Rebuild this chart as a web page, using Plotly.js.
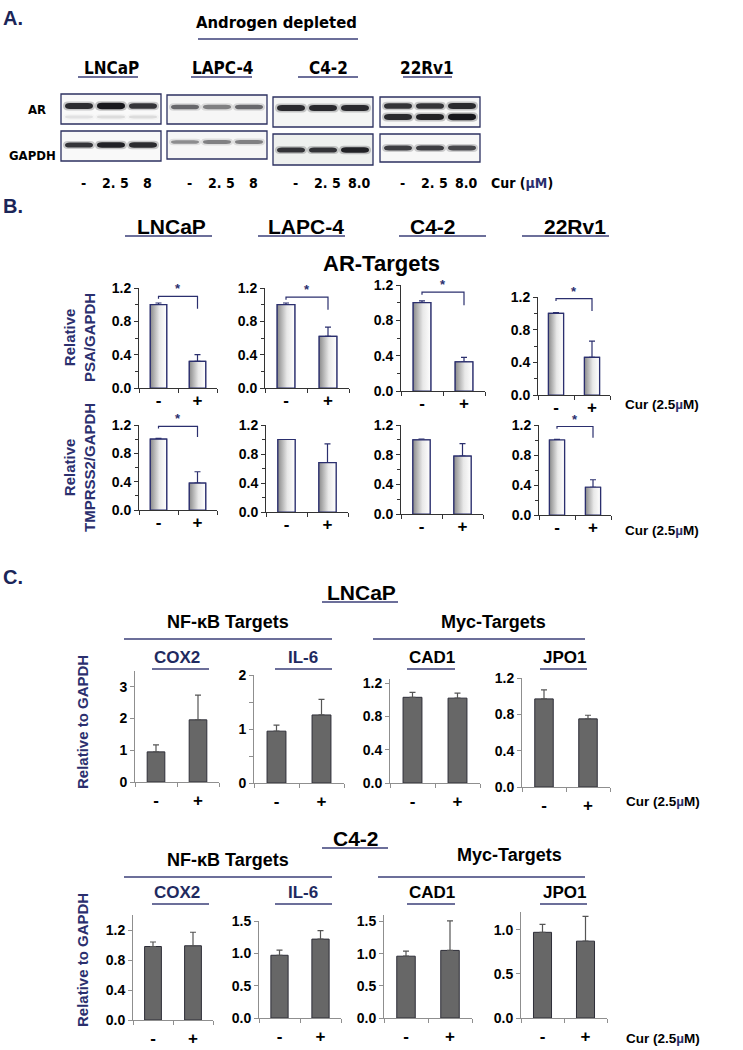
<!DOCTYPE html>
<html>
<head>
<meta charset="utf-8">
<script src="https://cdn.plot.ly/plotly-3.0.1.min.js"></script>
<style>html,body{margin:0;padding:0;background:#fff;}#chart{width:743px;height:1050px;}</style>
</head>
<body>
<div id="chart"></div>
<script>
// ---------------- DATA ----------------
// Panel A: western blots (relative band intensity, 0..1)
const blotLines = ['LNCaP', 'LAPC-4', 'C4-2', '22Rv1'];
const blotDoses = [['-', '2. 5', '8'], ['-', '2. 5', '8'], ['-', '2. 5', '8.0'], ['-', '2. 5', '8.0']];
const arUpper = [[0.85, 0.95, 0.80], [0.55, 0.45, 0.55], [0.85, 0.85, 0.85], [0.80, 0.80, 0.85]];
const arLower = [[0.08, 0.10, 0.10], [0.00, 0.00, 0.00], [0.00, 0.00, 0.00], [0.85, 0.90, 0.95]];
const gapdhBand = [[0.80, 0.90, 0.85], [0.40, 0.45, 0.45], [0.80, 0.80, 0.90], [0.75, 0.75, 0.70]];

// Panel B: AR targets (Relative to GAPDH), treatment - / +
const bLines = ['LNCaP', 'LAPC-4', 'C4-2', '22Rv1'];
const treatment = ['-', '+'];
const psaMean = [[1.00, 0.32], [1.00, 0.62], [1.00, 0.33], [1.00, 0.46]];
const psaErr = [[0.02, 0.08], [0.02, 0.11], [0.02, 0.05], [0.01, 0.20]];
const psaSig = [1.10, 1.09, 1.12, 1.18];       // significance bracket level (null = none)
const tmpMean = [[1.00, 0.38], [1.00, 0.68], [1.00, 0.78], [1.00, 0.37]];
const tmpErr = [[0.01, 0.16], [0.00, 0.26], [0.01, 0.17], [0.01, 0.10]];
const tmpSig = [1.18, null, null, 1.18];

// Panel C: NF-kB and Myc targets
const cGenes = ['COX2', 'IL-6', 'CAD1', 'JPO1'];
const cGroups = ['NF-κB Targets', 'Myc-Targets'];
const lncapMean = [[0.95, 1.96], [0.96, 1.26], [1.03, 1.02], [0.97, 0.75]];
const lncapErr = [[0.22, 0.78], [0.11, 0.29], [0.06, 0.06], [0.10, 0.04]];
const c42Mean = [[0.98, 0.99], [0.97, 1.22], [0.96, 1.05], [0.97, 0.87]];
const c42Err = [[0.06, 0.18], [0.08, 0.13], [0.08, 0.46], [0.09, 0.28]];

// ---------------- STYLE / GEOMETRY ----------------
const W = 743, H = 1050;
const NAVY = '#2b2f6e';
const FONT = 'Liberation Sans, Arial, sans-serif';
const NARROW = 'Liberation Sans Narrow, Arial Narrow, DejaVu Sans Condensed, sans-serif';
const px = v => v / W;
const py = v => 1 - v / H;

const blotGeom = [
  {x: [61, 161], ar: [94, 124], gapdh: [131, 161], arY: [106, 117], gY: 145},
  {x: [167, 267], ar: [95, 124], gapdh: [131, 159], arY: [107, 117], gY: 142},
  {x: [273, 373], ar: [97, 127], gapdh: [134, 165], arY: [108, 119], gY: 150},
  {x: [380, 480], ar: [97, 127], gapdh: [134, 162], arY: [106, 117], gY: 148}
];
const laneFrac = [0.18, 0.5, 0.82];

const geomB = [
  {x: [139, 217], zero: 388, top: 288}, {x: [265, 349], zero: 388, top: 288},
  {x: [401, 485], zero: 391, top: 285}, {x: [538, 610], zero: 395, top: 297},
  {x: [139, 217], zero: 510, top: 425}, {x: [266, 348], zero: 512, top: 425},
  {x: [401, 483], zero: 514, top: 425}, {x: [539, 611], zero: 515, top: 425}
];
const geomC = [
  {x: [135, 219], zero: 782, top: 671, max: 3.5, tv: [0, 1, 2, 3], lab: 1, dec: 0},
  {x: [254, 344], zero: 783, top: 675, max: 2, tv: [0, 0.5, 1, 1.5, 2], lab: 1, dec: 0},
  {x: [390, 480], zero: 783, top: 679, max: 1.25, tv: [0, 0.4, 0.8, 1.2], lab: 0.4, dec: 1},
  {x: [522, 610], zero: 787, top: 678, max: 1.2, tv: [0, 0.4, 0.8, 1.2], lab: 0.4, dec: 1},
  {x: [133, 213], zero: 1020, top: 915, max: 1.4, tv: [0, 0.4, 0.8, 1.2], lab: 0.4, dec: 1},
  {x: [259, 341], zero: 1018, top: 921, max: 1.5, tv: [0, 0.5, 1, 1.5], lab: 0.5, dec: 1},
  {x: [384, 472], zero: 1018, top: 915, max: 1.6, tv: [0, 0.5, 1, 1.5], lab: 0.5, dec: 1},
  {x: [521, 607], zero: 1018, top: 912, max: 1.2, tv: [0, 0.5, 1.0], lab: 0.5, dec: 1}
];

const traces = [];
const layout = {
  width: W, height: H, margin: {l: 0, r: 0, t: 0, b: 0},
  paper_bgcolor: '#fff', plot_bgcolor: 'rgba(0,0,0,0)', showlegend: false,
  annotations: [], shapes: []
};

function ann(text, x, y, o) {
  o = o || {};
  layout.annotations.push({
    text: '<b>' + text + '</b>', x: px(x), y: py(y), xref: 'paper', yref: 'paper', showarrow: false,
    xanchor: o.xanchor || 'center', yanchor: 'middle', textangle: o.angle || 0,
    align: 'center',
    font: {family: o.family || FONT, size: o.size || 14, color: o.color || '#000', weight: 700}
  });
}
function uline(x0, x1, y, o) {
  o = o || {};
  layout.shapes.push({type: 'line', xref: 'paper', yref: 'paper', x0: px(x0), x1: px(x1), y0: py(y), y1: py(y),
    line: {color: o.color || '#3b3f78', width: o.width || 1.5}});
}
function rect(x0, x1, y0, y1, fill) {
  layout.shapes.push({type: 'rect', xref: 'paper', yref: 'paper', x0: px(x0), x1: px(x1), y0: py(y1), y1: py(y0),
    line: {color: '#2c3060', width: 1.3}, fillcolor: fill || '#f8f8f8', layer: 'below'});
}
function band(cx, cy, w, h, alpha) {
  if (alpha <= 0) return;
  const mk = (ww, hh, a) => {
    const x0 = cx - ww / 2, x1 = cx + ww / 2, y0 = cy - hh / 2, y1 = cy + hh / 2, r = Math.min(5, ww / 4);
    const P = (X, Y) => px(X) + ',' + py(Y);
    const d = 'M' + P(x0 + r, y0) + ' L' + P(x1 - r, y0) + ' Q' + P(x1, y0) + ' ' + P(x1, cy) +
      ' Q' + P(x1, y1) + ' ' + P(x1 - r, y1) + ' L' + P(x0 + r, y1) + ' Q' + P(x0, y1) + ' ' + P(x0, cy) +
      ' Q' + P(x0, y0) + ' ' + P(x0 + r, y0) + ' Z';
    layout.shapes.push({type: 'path', xref: 'paper', yref: 'paper', path: d,
      fillcolor: 'rgba(15,15,20,' + a.toFixed(3) + ')', line: {width: 0}});
  };
  mk(w + 4, h + 3, alpha * 0.25);
  mk(w, h, alpha);
}

// ---------------- PANEL A ----------------
ann('A.', 13, 18, {size: 20, color: '#1b2558'});
ann('Androgen depleted', 276, 23, {family: NARROW, size: 16.5});
uline(198, 358, 39);
const aHeadX = [111, 222, 328, 427];
const aHeadLine = [[78, 138], [191, 252], [298, 358], [403, 452]];
const boxFill = ['#f9f9f9', '#f6f6f6', '#f4f5f4', '#f7f7f7'];
blotLines.forEach((name, i) => {
  ann(name, aHeadX[i], 68, {family: NARROW, size: 17});
  uline(aHeadLine[i][0], aHeadLine[i][1], 77);
  const g = blotGeom[i];
  rect(g.x[0], g.x[1], g.ar[0], g.ar[1], boxFill[i]);
  rect(g.x[0], g.x[1], g.gapdh[0], g.gapdh[1], i === 2 ? '#eef0ee' : boxFill[i]);
  const bw = g.x[1] - g.x[0];
  laneFrac.forEach((f, k) => {
    const cx = g.x[0] + f * bw;
    band(cx, g.arY[0], 28, 2.5 + 4 * arUpper[i][k], arUpper[i][k]);
    band(cx, g.arY[1], 28, 2.5 + 4 * arLower[i][k], arLower[i][k]);
    band(cx, g.gY, 28, 2 + 4 * gapdhBand[i][k], gapdhBand[i][k]);
    ann(blotDoses[i][k], cx + 4, 183, {family: NARROW, size: 14});
  });
});
ann('AR', 37, 110, {family: NARROW, size: 13});
ann('GAPDH', 32, 155, {family: NARROW, size: 13});
ann('Cur (<span style="color:' + NAVY + '">µM</span>)', 489, 183, {family: NARROW, size: 14, xanchor: 'left'});

// ---------------- axis helpers ----------------
let nAx = 0;
function newAxes(g, yMax, yTicks, style) {
  nAx++;
  const xa = nAx === 1 ? 'xaxis' : 'xaxis' + nAx;
  const ya = nAx === 1 ? 'yaxis' : 'yaxis' + nAx;
  const xr = nAx === 1 ? 'x' : 'x' + nAx;
  const yr = nAx === 1 ? 'y' : 'y' + nAx;
  const lc = style === 'B' ? '#333' : '#8f8f8f';
  layout[xa] = {
    domain: [px(g.x[0]), px(g.x[1])], anchor: yr, range: [-0.5, 1.5], fixedrange: true,
    showline: true, linecolor: lc, linewidth: 1, showgrid: false, zeroline: false,
    tickmode: 'array', tickvals: [0, 1], ticktext: treatment.map(t => '<b>' + t + '</b>'), ticks: '',
    ticklabelstandoff: style === 'B' ? -3 : 3,
    tickfont: {family: FONT, size: 17, color: '#000', weight: 700},
    minor: {tickmode: 'array', tickvals: [-0.5, 0.5, 1.5], ticks: 'outside', ticklen: 4, tickcolor: lc, showgrid: false}
  };
  layout[ya] = Object.assign({
    domain: [py(g.zero), py(g.top)], anchor: xr, range: [0, yMax], fixedrange: true,
    showline: true, linecolor: lc, linewidth: 1, showgrid: false, zeroline: false,
    ticks: 'outside', ticklen: 4, tickcolor: lc,
    tickfont: {family: FONT, size: 14, color: '#000', weight: 700}
  }, yTicks);
  return {xr, yr};
}

// ---------------- PANEL B ----------------
ann('B.', 13, 206, {size: 20, color: '#1b2558'});
const bHeadX = [171, 306, 433, 575];
const bHeadLine = [[125, 212], [258, 345], [399, 486], [522, 609]];
bLines.forEach((n, i) => { ann(n, bHeadX[i], 226, {size: 21}); uline(bHeadLine[i][0], bHeadLine[i][1], 236); });
ann('AR-Targets', 382, 263, {size: 22});
ann('Relative<br>PSA/GAPDH', 79, 338, {angle: -90, size: 15, color: NAVY});
ann('Relative<br>TMPRSS2/GAPDH', 79, 468, {angle: -90, size: 15, color: NAVY});
ann('Cur (2.5<span style="color:' + NAVY + '">µ</span>M)', 623, 405, {xanchor: 'left', size: 13.5});
ann('Cur (2.5<span style="color:' + NAVY + '">µ</span>M)', 623, 530, {xanchor: 'left', size: 13.5});

const BW = 0.42;
function chartB(g, mean, err, sig) {
  const yt = {tickmode: 'linear', tick0: 0, dtick: 0.4, tickformat: '.1f',
    minor: {dtick: 0.2, ticks: 'outside', ticklen: 3, tickcolor: '#333', showgrid: false}};
  const {xr, yr} = newAxes(g, 1.2, yt, 'B');
  traces.push({type: 'bar', x: [0, 1], y: mean, width: BW, xaxis: xr, yaxis: yr, hoverinfo: 'skip',
    marker: {color: 'rgba(0,0,0,0)', line: {color: NAVY, width: 1.2}},
    error_y: {type: 'data', symmetric: false, array: err, arrayminus: [0, 0], color: NAVY, thickness: 1.2, width: 3}});
  mean.forEach((v, k) => {
    traces.push({type: 'scatter', mode: 'lines', xaxis: xr, yaxis: yr, hoverinfo: 'skip',
      x: [k - BW / 2, k + BW / 2, k + BW / 2, k - BW / 2, k - BW / 2], y: [0, 0, v, v, 0],
      fill: 'toself', fillcolor: '#bbb',
      fillgradient: {type: 'horizontal', colorscale: [[0, '#8a8a8a'], [0.55, '#e8e8e8'], [1, '#ffffff']]},
      line: {color: NAVY, width: 1.2}});
  });
  if (sig !== null) {
    traces.push({type: 'scatter', mode: 'lines', xaxis: xr, yaxis: yr, hoverinfo: 'skip', cliponaxis: false,
      line: {color: NAVY, width: 1.2, simplify: false},
      x: [0, 0, 1, 1], y: [sig - 0.03, sig, sig, sig - 0.15]});
    layout.annotations.push({text: '<b>*</b>', x: 0.5, y: sig, xref: xr, yref: yr, yanchor: 'bottom', showarrow: false,
      yshift: -2, font: {family: FONT, size: 13, color: NAVY, weight: 700}});
  }
}
for (let i = 0; i < 4; i++) chartB(geomB[i], psaMean[i], psaErr[i], psaSig[i]);
for (let i = 0; i < 4; i++) chartB(geomB[i + 4], tmpMean[i], tmpErr[i], tmpSig[i]);

// ---------------- PANEL C ----------------
ann('C.', 13, 577, {size: 20, color: '#1b2558'});
function cBlock(title, tY, tLine, mean, err, geoms, groupY, geneY, curY, titleY) {
  ann(title, (tLine[0] + tLine[1]) / 2 + 1, tY, {size: 21});
  uline(tLine[0], tLine[1], tY + 10);
  ann(cGroups[0], 228, groupY[0], {size: 18});
  uline(124, 332, groupY[0] + 17);
  ann(cGroups[1], groupY[2], groupY[1], {size: 18});
  uline(groupY[3], 585, groupY[0] + 17);
  const gx = [177, 303, 432, 564];
  const gl = [[152, 209], [275, 332], [407, 455], [540, 587]];
  cGenes.forEach((gname, i) => {
    ann(gname, gx[i], geneY, {size: 17, color: i < 2 ? '#1f2a60' : '#000'});
    uline(gl[i][0], gl[i][1], geneY + 12);
    const g = geoms[i];
    const yt = {tickmode: 'array', tickvals: g.tv,
      ticktext: g.tv.map(v => (Math.abs(v / g.lab - Math.round(v / g.lab)) < 1e-6) ? v.toFixed(g.dec) : '')};
    const {xr, yr} = newAxes(g, g.max, yt, 'C');
    traces.push({type: 'bar', x: [0, 1], y: mean[i], width: 0.42, xaxis: xr, yaxis: yr, hoverinfo: 'skip',
      marker: {color: '#676767', line: {color: '#2e2e38', width: 1}},
      error_y: {type: 'data', symmetric: false, array: err[i], arrayminus: [0, 0], color: '#555', thickness: 1.2, width: 3}});
  });
  ann('Relative to GAPDH', 82, titleY, {angle: -90, size: 15, color: NAVY});
  ann('Cur (2.5<span style="color:' + NAVY + '">µ</span>M)', 624, curY, {xanchor: 'left', size: 13.5});
}
cBlock('LNCaP', 592, [322, 398], lncapMean, lncapErr, geomC.slice(0, 4), [622, 622, 493, 373], 657, 801, 722);
cBlock('C4-2', 838, [322, 388], c42Mean, c42Err, geomC.slice(4, 8), [860, 855, 509, 378], 892, 1038, 960);

Plotly.newPlot('chart', traces, layout, {staticPlot: true, displayModeBar: false});
</script>
</body>
</html>
